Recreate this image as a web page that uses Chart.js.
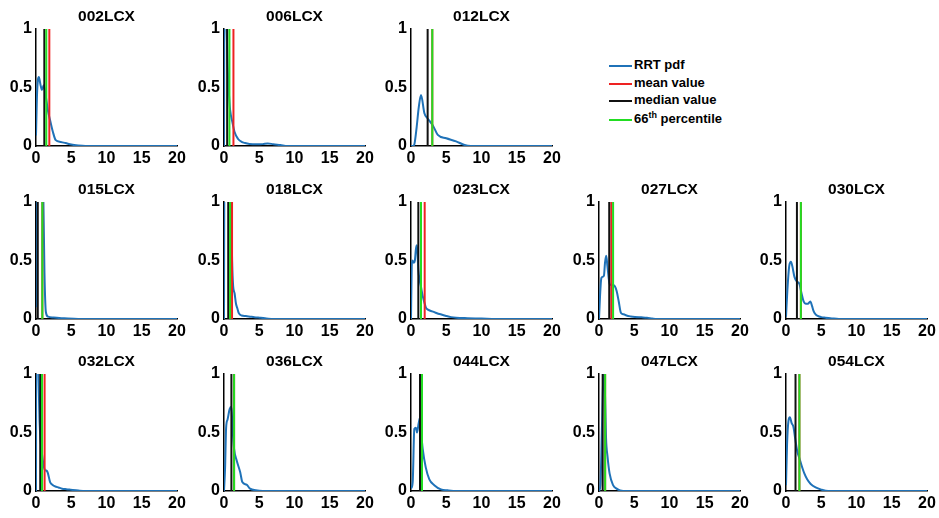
<!DOCTYPE html>
<html>
<head>
<meta charset="utf-8">
<script src="https://cdn.jsdelivr.net/npm/chart.js@4.4.1/dist/chart.umd.min.js"></script>
<style>
  body { margin: 0; background: #fff; width: 939px; height: 518px; overflow: hidden; position: relative; font-family: "Liberation Sans", Arial, sans-serif; }
  canvas { position: absolute; }
  .leg { position: absolute; left: 609px; height: 16px; line-height: 16px; font-weight: bold; font-size: 13px; color: #000; white-space: nowrap; }
  .leg i { display: inline-block; width: 23px; height: 2px; vertical-align: middle; margin-right: 2px; }
  .leg sup { font-size: 9px; line-height: 0; }
</style>
</head>
<body>
<div class="leg" style="top:57px"><i style="background:#1f72b8"></i>RRT pdf</div>
<div class="leg" style="top:75px"><i style="background:#ee2222"></i>mean value</div>
<div class="leg" style="top:92px"><i style="background:#111"></i>median value</div>
<div class="leg" style="top:111px"><i style="background:#22dd22"></i>66<sup>th</sup> percentile</div>
<script>
// panel names, in reading order
const panelNames = ['002LCX', '006LCX', '012LCX', '015LCX', '018LCX', '023LCX', '027LCX', '030LCX', '032LCX', '036LCX', '044LCX', '047LCX', '054LCX'];
const panelRows = [0, 0, 0, 1, 1, 1, 1, 1, 2, 2, 2, 2, 2];
const panelCols = [0, 1, 2, 0, 1, 2, 3, 4, 0, 1, 2, 3, 4];

const xTicks = [0, 5, 10, 15, 20];
const yTicks = [0, 0.5, 1];
const yTickLabels = ['0', '0.5', '1'];

// vertical markers per panel
const meanValues   = [1.89, 1.34, 3.02, 0.9, 1.14, 1.94, 1.75, 2.11, 1.22, 1.43, 1.56, 0.87, 1.9];
const medianValues = [1.18, 0.45, 2.36, 0.25, 0.6, 1.04, 1.45, 1.55, 0.6, 1.05, 1.28, 0.52, 1.35];
const p66Values    = [1.46, 0.77, 3.02, 0.9, 0.86, 1.42, 2.0, 2.11, 0.85, 1.43, 1.56, 0.87, 1.9];

// RRT pdf curves
const x002 = [0, 0.15, 0.4, 0.65, 0.85, 1.1, 1.4, 1.7, 2.0, 2.4, 2.8, 3.5, 4.2, 5.0, 6.0, 7.0, 20];
const y002 = [0.09, 0.45, 0.59, 0.52, 0.48, 0.52, 0.42, 0.3, 0.22, 0.12, 0.05, 0.035, 0.025, 0.012, 0.004, 0, 0];
const x006 = [0, 0.08, 0.15, 0.3, 0.5, 0.77, 0.86, 1.2, 1.5, 2.0, 2.5, 3.0, 3.6, 4.5, 5.5, 6.2, 7.0, 8.0, 9.0, 20];
const y006 = [0, 1.6, 1.6, 1.2, 0.7, 0.38, 0.31, 0.2, 0.12, 0.06, 0.035, 0.025, 0.018, 0.014, 0.016, 0.022, 0.015, 0.008, 0, 0];
const x012 = [0, 0.3, 0.5, 0.8, 1.1, 1.42, 1.9, 2.36, 3.1, 3.8, 5.0, 6.4, 7.6, 8.5, 20];
const y012 = [0, 0, 0.02, 0.16, 0.33, 0.435, 0.28, 0.235, 0.176, 0.095, 0.066, 0.04, 0.008, 0, 0];
const x015 = [0, 0.06, 0.15, 0.5, 0.9, 1.05, 1.2, 1.4, 1.7, 2.5, 4, 6, 20];
const y015 = [0.1, 1.6, 1.6, 1.5, 1.3, 1.0, 0.4, 0.06, 0.02, 0.012, 0.006, 0, 0];
const x018 = [0, 0.06, 0.15, 0.6, 1.0, 1.15, 1.3, 1.5, 1.7, 1.9, 2.1, 2.5, 3.1, 3.7, 4.3, 5.2, 6.0, 7.0, 20];
const y018 = [0, 1.5, 1.6, 1.4, 1.0, 0.5, 0.28, 0.22, 0.13, 0.09, 0.05, 0.03, 0.025, 0.02, 0.015, 0.01, 0.005, 0, 0];
const x023 = [0, 0.1, 0.2, 0.4, 0.55, 0.7, 0.85, 1.04, 1.2, 1.4, 1.65, 1.9, 2.1, 2.4, 3.0, 3.5, 4.2, 5.0, 5.7, 6.4, 8, 10, 12, 20];
const y023 = [0, 0.45, 0.5, 0.48, 0.5, 0.6, 0.63, 0.42, 0.34, 0.28, 0.2, 0.14, 0.1, 0.08, 0.065, 0.054, 0.04, 0.026, 0.016, 0.011, 0.007, 0.004, 0, 0];
const x027 = [0, 0.15, 0.33, 0.5, 0.7, 0.85, 1.02, 1.2, 1.5, 1.8, 2.0, 2.25, 2.5, 2.8, 3.1, 3.5, 3.9, 4.5, 5.1, 6.0, 6.8, 7.5, 8.2, 20];
const y027 = [0, 0.2, 0.35, 0.36, 0.37, 0.48, 0.54, 0.45, 0.3, 0.29, 0.29, 0.28, 0.24, 0.15, 0.054, 0.04, 0.03, 0.022, 0.017, 0.014, 0.011, 0.005, 0, 0];
const x030 = [0, 0.2, 0.45, 0.7, 0.9, 1.2, 1.55, 1.9, 2.2, 2.5, 2.8, 3.1, 3.45, 3.7, 3.9, 4.2, 4.5, 5.0, 5.6, 6.5, 7.5, 20];
const y030 = [0.02, 0.25, 0.45, 0.49, 0.45, 0.36, 0.32, 0.3, 0.22, 0.15, 0.13, 0.13, 0.15, 0.11, 0.07, 0.04, 0.026, 0.016, 0.011, 0.005, 0, 0];
const x032 = [0, 0.04, 0.15, 0.3, 0.5, 0.7, 1.0, 1.25, 1.45, 1.65, 2.0, 2.4, 2.7, 3.2, 3.7, 4.3, 4.9, 6, 7, 20];
const y032 = [0, 1.6, 1.6, 1.1, 0.6, 0.4, 0.25, 0.18, 0.175, 0.16, 0.076, 0.05, 0.04, 0.03, 0.02, 0.015, 0.011, 0.004, 0, 0];
const x036 = [0, 0.15, 0.3, 0.5, 0.8, 1.05, 1.2, 1.43, 1.8, 2.3, 2.6, 3.2, 3.7, 4.5, 5.5, 20];
const y036 = [0, 0.19, 0.54, 0.61, 0.7, 0.72, 0.55, 0.36, 0.26, 0.16, 0.076, 0.054, 0.02, 0.006, 0, 0];
const x044 = [0, 0.24, 0.47, 0.7, 0.85, 1.09, 1.3, 1.45, 1.66, 2.1, 2.6, 3.3, 4.25, 5.2, 6.5, 20];
const y044 = [0.02, 0.076, 0.53, 0.54, 0.5, 0.58, 0.63, 0.5, 0.36, 0.2, 0.1, 0.05, 0.014, 0.006, 0, 0];
const x047 = [0, 0.2, 0.4, 0.6, 0.75, 0.9, 1.0, 1.2, 1.5, 2.0, 2.5, 3.0, 4.0, 20];
const y047 = [0, 0.05, 0.5, 0.95, 1.0, 0.7, 0.45, 0.3, 0.15, 0.05, 0.02, 0.005, 0, 0];
const x054 = [0, 0.15, 0.35, 0.55, 0.8, 1.05, 1.3, 1.6, 1.9, 2.2, 2.6, 3.0, 3.5, 4.2, 5.0, 6.0, 20];
const y054 = [0.05, 0.4, 0.6, 0.63, 0.58, 0.55, 0.45, 0.34, 0.28, 0.22, 0.15, 0.1, 0.06, 0.03, 0.012, 0, 0];

const pdfX = [x002, x006, x012, x015, x018, x023, x027, x030, x032, x036, x044, x047, x054];
const pdfY = [y002, y006, y012, y015, y018, y023, y027, y030, y032, y036, y044, y047, y054];

const BLUE = '#1f72b8', RED = '#ee2222', BLACK = '#111111', GREEN = '#22dd22';
const FONT = '"Liberation Sans", Arial, sans-serif';
const rowTops = [0, 173, 345];

function vline(v) {
    return [{x: v, y: 0}, {x: v, y: 1}];
}

function makePanel(i) {
    let canvas = document.createElement('canvas');
    canvas.width = 190;
    canvas.height = 170;
    canvas.style.left = Math.round(panelCols[i] * 187.5) + 'px';
    canvas.style.top = rowTops[panelRows[i]] + 'px';
    document.body.appendChild(canvas);

    let pts = pdfX[i].map((x, k) => ({x: x, y: pdfY[i][k]}));
    let lineDs = (label, data, color, order) => ({
        label: label, data: data, borderColor: color, borderWidth: 2,
        pointRadius: 0, fill: false, order: order
    });

    new Chart(canvas, {
        type: 'line',
        data: {
            datasets: [
                Object.assign(lineDs('RRT pdf', pts, BLUE, 4), {cubicInterpolationMode: 'monotone'}),
                lineDs('mean value', vline(meanValues[i]), RED, 3),
                lineDs('median value', vline(medianValues[i]), BLACK, 2),
                lineDs('66th percentile', vline(p66Values[i]), GREEN, 1)
            ]
        },
        options: {
            responsive: false,
            animation: false,
            devicePixelRatio: 1,
            layout: {padding: {left: 0, right: 13, top: 0, bottom: 0}},
            plugins: {
                legend: {display: false},
                tooltip: {enabled: false},
                title: {
                    display: true, text: panelNames[i], fullSize: false, color: '#000',
                    font: {family: FONT, size: 15.5, weight: 'bold', lineHeight: 1.2},
                    padding: {top: 7, bottom: 3.4}
                }
            },
            scales: {
                x: {
                    type: 'linear', min: 0, max: 20,
                    afterBuildTicks: s => { s.ticks = xTicks.map(v => ({value: v})); },
                    afterFit: s => { s.height = 24; },
                    ticks: {color: '#000', padding: 3, maxRotation: 0, font: {family: FONT, size: 16, weight: 'bold'}},
                    grid: {display: false, drawTicks: false},
                    border: {display: true, color: '#000', width: 1.5}
                },
                y: {
                    type: 'linear', min: 0, max: 1,
                    afterBuildTicks: s => { s.ticks = yTicks.map(v => ({value: v})); },
                    afterFit: s => { s.width = 36; },
                    ticks: {
                        color: '#000', padding: 4, font: {family: FONT, size: 16, weight: 'bold'},
                        callback: (v, idx) => yTickLabels[idx]
                    },
                    grid: {display: false, drawTicks: false},
                    border: {display: true, color: '#000', width: 1.5}
                }
            }
        }
    });
}

for (let i = 0; i < panelNames.length; i++) {
    makePanel(i);
}
</script>
</body>
</html>
